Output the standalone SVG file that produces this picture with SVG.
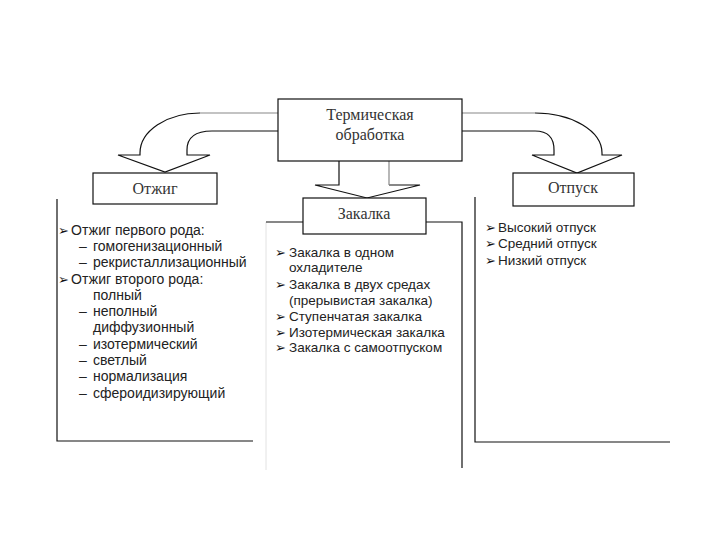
<svg xmlns="http://www.w3.org/2000/svg" width="720" height="540" viewBox="0 0 720 540">
<style>
.box{fill:#fff;stroke:#111;stroke-width:1.2}
.ttl{font-family:"Liberation Serif","Times New Roman",serif;font-size:16px;fill:#333;text-anchor:middle}
.li{font-family:"Liberation Sans",Arial,sans-serif;font-size:13.5px;fill:#222}
.lw{font-size:14px}
.bl{font-family:"DejaVu Sans",sans-serif;font-size:13px;fill:#111}
.ln{fill:none;stroke:#111;stroke-width:1.2}
.gl{fill:none;stroke:#888;stroke-width:1.2}
.fl{fill:none;stroke:#e2e2e2;stroke-width:1}
</style>
<rect width="720" height="540" fill="#fff"/>
<g id="connectors">
  <path class="gl" d="M278,113 H200"/>
  <path class="ln" d="M200,113 A60,40 0 0 0 140,153 V155 H118 L165,172 L210,155 H187 V150 Q187,131 212,131 H278"/>
  <path class="gl" d="M462,113 H535"/>
  <path class="ln" d="M535,113 A67,40 0 0 1 602,153 V155 H622 L577,173 L532,155 H554 V150 Q554,131 535,131 H462"/>
  <path class="ln" d="M339,161 V185 H315 L367,198 L420,185 H389"/>
  <path class="gl" d="M389,185 V161"/>
</g>
<g id="n-termo">
  <rect class="box" x="278" y="99" width="184" height="62"/>
  <text class="ttl" x="370" y="120">Термическая</text>
  <text class="ttl" x="370" y="140">обработка</text>
</g>
<g id="n-otzhig">
  <rect class="box" x="93" y="173" width="124" height="31"/>
  <text class="ttl" x="155" y="194">Отжиг</text>
</g>
<g id="n-otpusk">
  <rect class="box" x="513" y="173" width="121" height="33"/>
  <text class="ttl" x="573" y="193">Отпуск</text>
</g>
<g id="p-otzhig">
  <path class="ln" d="M57,199 V441 H253"/>
  <text class="bl" x="58" y="235">➢</text><text class="li lw" x="71" y="235">Отжиг первого рода:</text>
  <text class="li lw" x="79" y="251">–</text><text class="li lw" x="93" y="251">гомогенизационный</text>
  <text class="li lw" x="79" y="267">–</text><text class="li lw" x="93" y="267">рекристаллизационный</text>
  <text class="bl" x="58" y="284">➢</text><text class="li lw" x="71" y="284">Отжиг второго рода:</text>
  <text class="li lw" x="93" y="300">полный</text>
  <text class="li lw" x="79" y="316">–</text><text class="li lw" x="93" y="316">неполный</text>
  <text class="li lw" x="93" y="332">диффузионный</text>
  <text class="li lw" x="79" y="349">–</text><text class="li lw" x="93" y="349">изотермический</text>
  <text class="li lw" x="79" y="365">–</text><text class="li lw" x="93" y="365">светлый</text>
  <text class="li lw" x="79" y="381">–</text><text class="li lw" x="93" y="381">нормализация</text>
  <text class="li lw" x="79" y="398">–</text><text class="li lw" x="93" y="398">сфероидизирующий</text>
</g>
<g id="p-zakalka">
  <path class="fl" d="M266,222 V470"/>
  <path class="ln" d="M266,222 H303 M426,222 H462 V468"/>
  <text class="bl" x="275" y="257">➢</text><text class="li" x="289" y="257">Закалка в одном</text>
  <text class="li" x="289" y="272">охладителе</text>
  <text class="bl" x="275" y="289">➢</text><text class="li" x="289" y="289">Закалка в двух средах</text>
  <text class="li" x="289" y="305">(прерывистая закалка)</text>
  <text class="bl" x="275" y="321">➢</text><text class="li" x="289" y="321">Ступенчатая закалка</text>
  <text class="bl" x="275" y="337">➢</text><text class="li" x="289" y="337">Изотермическая закалка</text>
  <text class="bl" x="275" y="352">➢</text><text class="li" x="289" y="352">Закалка с самоотпуском</text>
</g>
<g id="n-zakalka">
  <rect class="box" x="303" y="198" width="123" height="36"/>
  <text class="ttl" x="364" y="219">Закалка</text>
</g>
<g id="p-otpusk">
  <path class="ln" d="M475,197 V442 H670"/>
  <text class="bl" x="485" y="232">➢</text><text class="li" x="498" y="232">Высокий отпуск</text>
  <text class="bl" x="485" y="248">➢</text><text class="li" x="498" y="248">Средний отпуск</text>
  <text class="bl" x="485" y="265">➢</text><text class="li" x="498" y="265">Низкий отпуск</text>
</g>
</svg>
